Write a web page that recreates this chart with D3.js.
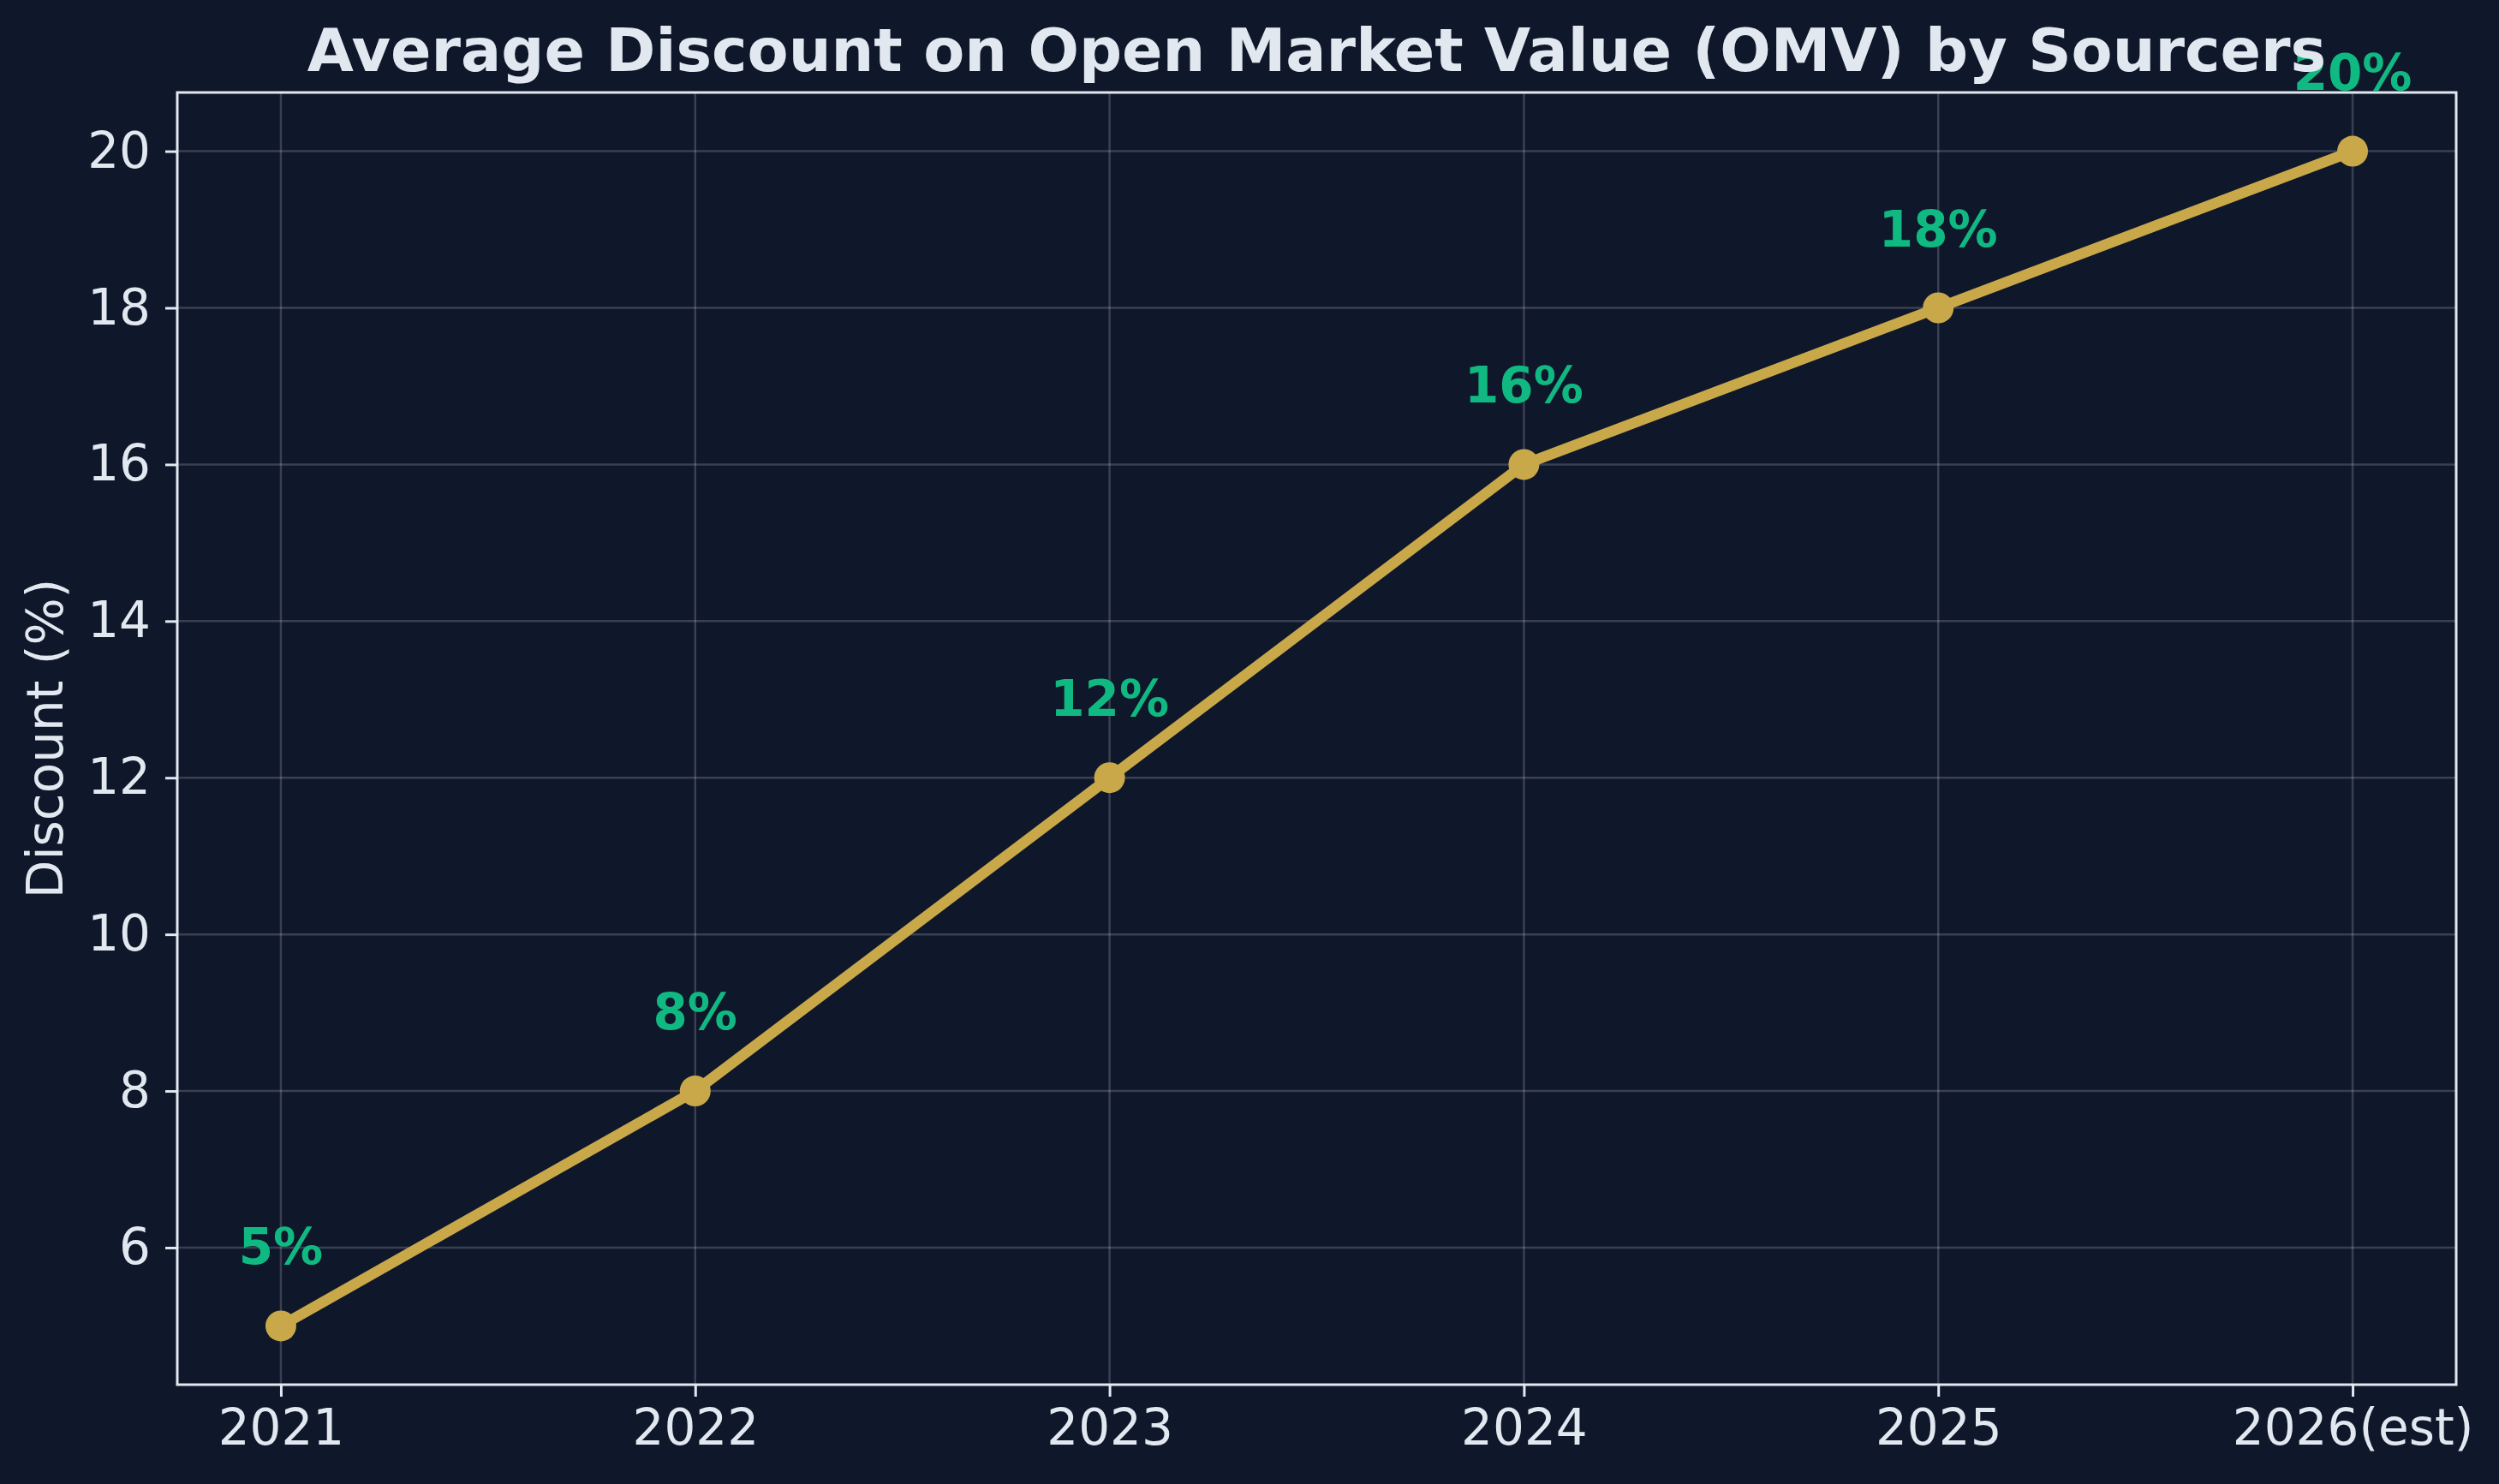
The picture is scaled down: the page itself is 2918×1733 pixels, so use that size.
<!DOCTYPE html>
<html>
<head>
<meta charset="utf-8">
<script src="https://cdn.jsdelivr.net/npm/d3@7"></script>
<style>
  html, body { margin: 0; padding: 0; background: #0f172a; }
  svg { display: block; font-family: "DejaVu Sans", sans-serif; }
</style>
</head>
<body>
<script>
(function(){
   // data
   var years = ["2021", "2022", "2023", "2024", "2025", "2026(est)"];
   var discounts = [5, 8, 12, 16, 18, 20];
   var yTicks = [6, 8, 10, 12, 14, 16, 18, 20];

   var width = 2918;
   var height = 1733;
   var margin = {top: 108, right: 50, bottom: 116, left: 207};
   var textColor = "#e2e8f0";

   var svg = d3.select("body").append("svg")
        .attr("width", width)
        .attr("height", height);

   svg.append("rect")
        .attr("width", width)
        .attr("height", height)
        .attr("fill", "#0f172a");

   let xScale = d3.scaleLinear()
        .domain([-0.25, years.length - 1 + 0.25])
        .range([margin.left, width - margin.right]);
   let yScale = d3.scaleLinear()
        .domain([4.25, 20.75])
        .range([height - margin.bottom, margin.top]);

   // grid
   let grid = svg.append("g");
   grid.selectAll("line.gx")
        .data(years)
        .enter().append("line")
        .attr("x1", (d, i) => xScale(i))
        .attr("x2", (d, i) => xScale(i))
        .attr("y1", margin.top)
        .attr("y2", height - margin.bottom)
        .attr("stroke", textColor)
        .attr("stroke-opacity", 0.2)
        .attr("stroke-width", 2.5);
   grid.selectAll("line.gy")
        .data(yTicks)
        .enter().append("line")
        .attr("x1", margin.left)
        .attr("x2", width - margin.right)
        .attr("y1", (d) => yScale(d))
        .attr("y2", (d) => yScale(d))
        .attr("stroke", textColor)
        .attr("stroke-opacity", 0.2)
        .attr("stroke-width", 2.5);

   // axes
   let xAxis = d3.axisBottom(xScale)
        .tickValues(d3.range(years.length))
        .tickFormat((i) => years[i])
        .tickSizeInner(14)
        .tickSizeOuter(0)
        .tickPadding(15);
   let yAxis = d3.axisLeft(yScale)
        .tickValues(yTicks)
        .tickSizeInner(14)
        .tickSizeOuter(0)
        .tickPadding(17);

   let gx = svg.append("g")
        .attr("transform", "translate(0," + (height - margin.bottom) + ")")
        .call(xAxis);
   let gy = svg.append("g")
        .attr("transform", "translate(" + margin.left + ",0)")
        .call(yAxis);
   [gx, gy].forEach((g) => {
       g.select(".domain").remove();
       g.selectAll(".tick line").attr("stroke", textColor).attr("stroke-width", 3);
       g.selectAll(".tick text")
            .attr("fill", textColor)
            .style("font-size", "58px")
            .style("font-family", "DejaVu Sans");
   });

   // frame
   svg.append("rect")
        .attr("x", margin.left)
        .attr("y", margin.top)
        .attr("width", width - margin.left - margin.right)
        .attr("height", height - margin.top - margin.bottom)
        .attr("fill", "none")
        .attr("stroke", textColor)
        .attr("stroke-width", 3);

   // line + markers
   let linefunc = d3.line()
        .x((d, i) => xScale(i))
        .y((d) => yScale(d));
   svg.append("path")
        .attr("d", linefunc(discounts))
        .attr("stroke", "#c9a84a")
        .attr("stroke-width", 12.5)
        .attr("stroke-linejoin", "round")
        .attr("fill", "none");
   svg.selectAll("circle.pt")
        .data(discounts)
        .enter().append("circle")
        .attr("cx", (d, i) => xScale(i))
        .attr("cy", (d) => yScale(d))
        .attr("r", 18)
        .attr("fill", "#c9a84a");

   // value labels
   svg.selectAll("text.lbl")
        .data(discounts)
        .enter().append("text")
        .attr("x", (d, i) => xScale(i))
        .attr("y", (d) => yScale(d) - 72)
        .attr("text-anchor", "middle")
        .attr("fill", "#10b981")
        .style("font-size", "58px")
        .style("font-weight", "bold")
        .text((d) => d + "%");

   // title + y label
   svg.append("text")
        .attr("x", (margin.left + width - margin.right) / 2)
        .attr("y", 83)
        .attr("text-anchor", "middle")
        .attr("fill", textColor)
        .style("font-size", "70px")
        .style("font-weight", "bold")
        .text("Average Discount on Open Market Value (OMV) by Sourcers");

   svg.append("text")
        .attr("transform", "translate(73," + ((margin.top + height - margin.bottom) / 2) + ") rotate(-90)")
        .attr("text-anchor", "middle")
        .attr("fill", textColor)
        .style("font-size", "58px")
        .text("Discount (%)");
})();
</script>
</body>
</html>
